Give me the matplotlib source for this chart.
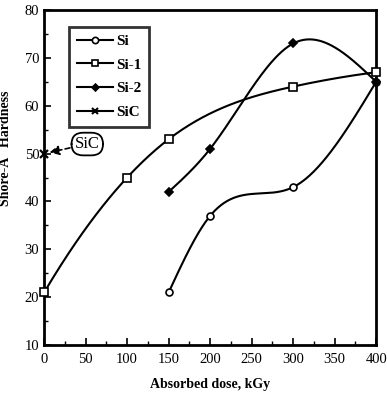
import numpy as np
import matplotlib
matplotlib.use('Agg')
import matplotlib.pyplot as plt

# Data
dose_si = [150, 200, 300, 400]
hard_si = [21, 37, 43, 65]

dose_si1 = [0, 100, 150, 300, 400]
hard_si1 = [21, 45, 53, 64, 67]

dose_si2 = [150, 200, 300, 400]
hard_si2 = [42, 51, 73, 65]

dose_sic = [0]
hard_sic = [50]


def smooth(x, y, n=200, runout=False):
    # cubic spline, only used to draw the connecting curve
    x = np.asarray(x, float)
    y = np.asarray(y, float)
    k = len(x)
    h = np.diff(x)
    A = np.zeros((k, k))
    b = np.zeros(k)
    A[0, 0] = A[-1, -1] = 1
    if runout:
        A[0, 1] = A[-1, -2] = -1
    for i in range(1, k - 1):
        A[i, i - 1] = h[i - 1]
        A[i, i] = 2 * (h[i - 1] + h[i])
        A[i, i + 1] = h[i]
        b[i] = 6 * ((y[i + 1] - y[i]) / h[i] - (y[i] - y[i - 1]) / h[i - 1])
    M = np.linalg.solve(A, b)
    xs = np.linspace(x[0], x[-1], n)
    idx = np.clip(np.searchsorted(x, xs) - 1, 0, k - 2)
    x0, x1 = x[idx], x[idx + 1]
    hh = x1 - x0
    t0, t1 = x1 - xs, xs - x0
    ys = (M[idx] * t0**3 + M[idx + 1] * t1**3) / (6 * hh) \
        + (y[idx] / hh - M[idx] * hh / 6) * t0 \
        + (y[idx + 1] / hh - M[idx + 1] * hh / 6) * t1
    return xs, ys


plt.rcParams['font.family'] = 'Liberation Serif'

fig = plt.figure(figsize=(3.87, 3.99), dpi=100)
ax = fig.add_axes([0.114, 0.135, 0.858, 0.84])

lw = 1.5
series = [(dose_si, hard_si, 'o', 'white', 5, 'Si', False),
          (dose_si1, hard_si1, 's', 'white', 5.5, 'Si-1', True),
          (dose_si2, hard_si2, 'D', 'black', 4, 'Si-2', False)]
for x, y, m, fc, ms, lab, ro in series:
    xs, ys = smooth(x, y, runout=ro)
    ax.plot(xs, ys, color='black', lw=lw)
    ax.plot(x, y, ls='none', marker=m, ms=ms, mfc=fc, mec='black', mew=1.2,
            clip_on=False, zorder=4)
    ax.plot([], [], color='black', lw=lw, marker=m, ms=ms - 0.5,
            mfc=fc, mec='black', mew=1.2, label=lab)

ax.plot(dose_sic, hard_sic, ls='none', marker='x', ms=6, mec='black', mew=1.6,
        clip_on=False, zorder=4)
ax.plot([], [], color='black', lw=lw, marker='x', ms=5, mec='black', mew=1.5, label='SiC')

ax.annotate('SiC', xy=(0, 50), xytext=(52, 52), fontsize=12,
            ha='center', va='center',
            bbox=dict(boxstyle='round,pad=0.2,rounding_size=0.7', fc='white', ec='black', lw=1.3),
            arrowprops=dict(arrowstyle='-|>', color='black', lw=1.2, ls=(0, (3, 2)),
                            mutation_scale=14, shrinkA=1, shrinkB=4))

ax.set_xlim(0, 400)
ax.set_ylim(10, 80)
ax.set_xticks(np.arange(0, 401, 50))
ax.set_xticks(np.arange(0, 401, 25), minor=True)
ax.set_yticks(np.arange(10, 81, 10))
ax.set_yticks(np.arange(10, 81, 5), minor=True)
ax.tick_params(direction='in', width=1.2, length=5, labelsize=10.5)
ax.tick_params(which='minor', direction='in', width=1, length=3)
ax.tick_params(axis='x', pad=6)
for s in ax.spines.values():
    s.set_linewidth(2)

ax.set_xlabel('Absorbed dose, kGy', fontsize=10, fontweight='bold', labelpad=8)
ax.set_ylabel('Shore-A   Hardness', fontsize=10, fontweight='bold')
ax.yaxis.set_label_coords(-0.096, 0.588)

leg = ax.legend(loc='upper left', bbox_to_anchor=(0.075, 0.95), borderaxespad=0,
                frameon=True, fancybox=False, edgecolor='black',
                prop={'size': 11, 'weight': 'bold'},
                handlelength=2.4, borderpad=0.5, labelspacing=0.65,
                handletextpad=0.2)
leg.get_frame().set_linewidth(2)

plt.savefig('out.png', dpi=100)
